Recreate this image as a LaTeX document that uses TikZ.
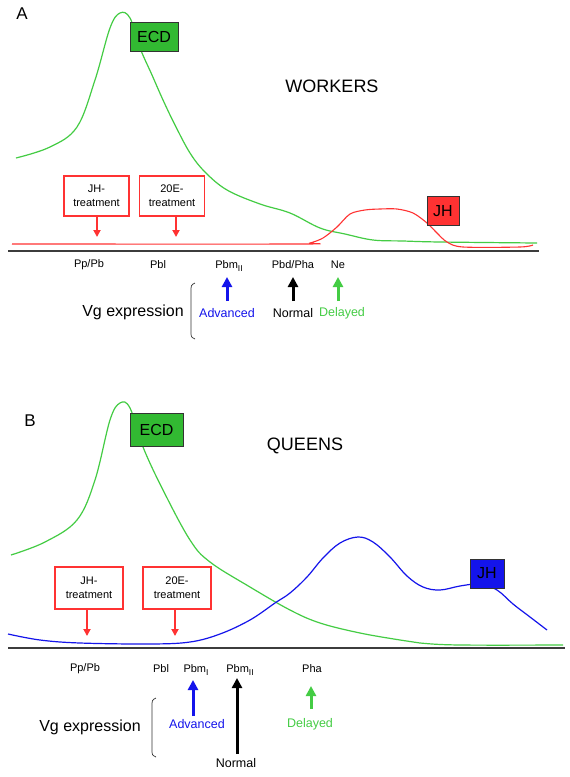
\documentclass[tikz,border=0pt]{standalone}
\usepackage{fontspec}
\setmainfont{Liberation Sans}
\usetikzlibrary{arrows.meta}
\definecolor{cgreen}{RGB}{68,204,68}
\definecolor{cfill}{RGB}{50,185,50}
\definecolor{cred}{RGB}{255,50,50}
\definecolor{cblue}{RGB}{20,20,235}
\definecolor{caxis}{RGB}{60,60,60}
\newcommand{\subII}[1]{\raisebox{-3pt}{\fontsize{8.5}{9}\selectfont #1}}
\tikzset{
  hbox/.style={draw=black!80, line width=0.8pt, inner sep=2pt, minimum height=29pt, font=\fontsize{16}{18}\selectfont},
  treat/.style={draw=cred, line width=1.1pt, align=center, font=\fontsize{11}{14}\selectfont, minimum width=65pt, minimum height=40pt, inner sep=1pt},
  stage/.style={font=\fontsize{11}{13}\selectfont},
  vg/.style={font=\fontsize{16}{18}\selectfont},
  resp/.style={font=\fontsize{12.5}{14}\selectfont},
  uparr/.style={line width=3pt, -{Triangle[width=10pt,length=10pt]}},
  redarr/.style={cred, line width=2pt, -{Triangle[width=7pt,length=7pt]}},
  curve/.style={line width=1.2pt},
  axisline/.style={caxis, line width=2pt},
  title/.style={font=\fontsize{18}{20}\selectfont},
  panel/.style={font=\fontsize{17}{20}\selectfont},
}
\begin{document}
\begin{tikzpicture}[x=1pt,y=-1pt]
\useasboundingbox (0,0) rectangle (570,777);
\fill[white] (0,0) rectangle (570,777);

% ================= Panel A =================
\node[panel] (A) at (22,14) {A};
\node[title] (workers) at (332,86) {WORKERS};

\draw[cgreen, curve] plot[smooth, tension=0.6] coordinates {
 (16,158) (50,147) (77,127) (95,80) (110,28) (120,13) (130,18) (140,48) (152,75)
 (163,100) (175,125) (190,153) (205,172) (227,190) (260,204) (290,213) (320,228)
 (345,234) (373,240) (403,241) (440,242) (537,243)};

\draw[cred, line width=1.1pt] plot[smooth, tension=0.5] coordinates {
 (12,244) (300,244) (310,243) (323,238) (337,227) (350,214) (365,210) (380,209)
 (397,209) (413,213) (427,223) (437,233) (447,242) (463,247) (520,247) (533,245)};

\node[hbox, fill=cfill, minimum width=48pt] (ecdA) at (154,37) {ECD};
\node[hbox, fill=cred, minimum width=32pt] (jhA) at (443,211) {JH};

\draw[axisline] (8,250.5) -- (539,250.5);

\node[treat] (jhtA) at (96.5,196) {JH-\\treatment};
\node[treat] (etA) at (172,196) {20E-\\treatment};
\coordinate (jhtAe) at (97,237);
\coordinate (etAe) at (176,237);
\draw[redarr] (jhtA.south -| jhtAe) -- (jhtAe);
\draw[redarr] (etA.south -| etAe) -- (etAe);

\node[stage] (ppA) at (89,265) {Pp/Pb};
\node[stage] (pblA) at (158,265) {Pbl};
\node[stage] (pbmA) at (229,266) {Pbm\subII{II}};
\node[stage] (pbdA) at (293,265) {Pbd/Pha};
\node[stage] (neA) at (338,265) {Ne};

\coordinate (aAs) at (227,301);
\coordinate (nAs) at (293,301);
\coordinate (dAs) at (338,301);
\draw[uparr, cblue] (aAs) -- (227,277);
\draw[uparr, black] (nAs) -- (293,277);
\draw[uparr, cgreen] (dAs) -- (338,277);

\node[vg] (vgA) at (133,312) {Vg expression};
\draw[black!80, line width=0.7pt] (195,283) .. controls (191,285) .. (191,292) -- (191,331) .. controls (191,337) .. (195,339);
\node[resp, text=cblue] (advA) at (227,313) {Advanced};
\node[resp] (norA) at (293,313) {Normal};
\node[resp, text=cgreen] (delA) at (342,313) {Delayed};

% ================= Panel B =================
\node[panel] (B) at (30,421) {B};
\node[title] (queens) at (305,446) {QUEENS};

\draw[cgreen, curve] plot[smooth, tension=0.6] coordinates {
 (11,555) (45,542) (77,520) (95,480) (110,420) (120,403) (130,408) (143,447)
 (163,490) (190,540) (210,562) (250,587) (290,610) (320,623) (360,633) (400,640)
 (420,643) (460,645) (563,645)};

\draw[cblue, line width=1.2pt] plot[smooth, tension=0.6] coordinates {
 (8,634) (40,640) (80,643) (150,644) (190,642) (220,634) (250,620) (275,603)
 (290,593) (307,577) (323,558) (340,543) (358,537) (373,542) (390,557) (407,576)
 (423,587) (440,590) (460,586) (480,584) (497,590) (513,604) (530,617) (547,630)};

\node[hbox, fill=cfill, minimum width=53pt, minimum height=33pt] (ecdB) at (156.5,429.5) {ECD};
\node[hbox, fill=cblue, minimum width=34pt] (jhB) at (487,573.5) {JH};

\draw[axisline] (8,648) -- (565,648);

\node[treat, draw=cred, minimum width=68pt, minimum height=42pt] (jhtB) at (89,588) {JH-\\treatment};
\node[treat, draw=cred, minimum width=68pt, minimum height=42pt] (etB) at (177,588) {20E-\\treatment};
\coordinate (jhtBe) at (87,636);
\coordinate (etBe) at (175,636);
\draw[redarr] (jhtB.south -| jhtBe) -- (jhtBe);
\draw[redarr] (etB.south -| etBe) -- (etBe);

\node[stage] (ppB) at (85,669) {Pp/Pb};
\node[stage] (pblB) at (161,669) {Pbl};
\node[stage] (pbm1B) at (196,670) {Pbm\subII{I}};
\node[stage] (pbm2B) at (240,670) {Pbm\subII{II}};
\node[stage] (phaB) at (312,669) {Pha};

\coordinate (aBs) at (193,716);
\coordinate (nBs) at (237,754);
\coordinate (dBs) at (311,709);
\draw[uparr, cblue] (aBs) -- (193,680);
\draw[uparr, black] (nBs) -- (237,678);
\draw[uparr, cgreen] (dBs) -- (311,686);

\node[vg] (vgB) at (90,727) {Vg expression};
\draw[black!80, line width=0.7pt] (156,698) .. controls (152,700) .. (152,707) -- (152,749) .. controls (152,755) .. (156,757);
\node[resp, text=cblue] (advB) at (197,724) {Advanced};
\node[resp, text=cgreen] (delB) at (310,724) {Delayed};
\node[resp] (norB) at (236,763) {Normal};
\end{tikzpicture}
\end{document}
